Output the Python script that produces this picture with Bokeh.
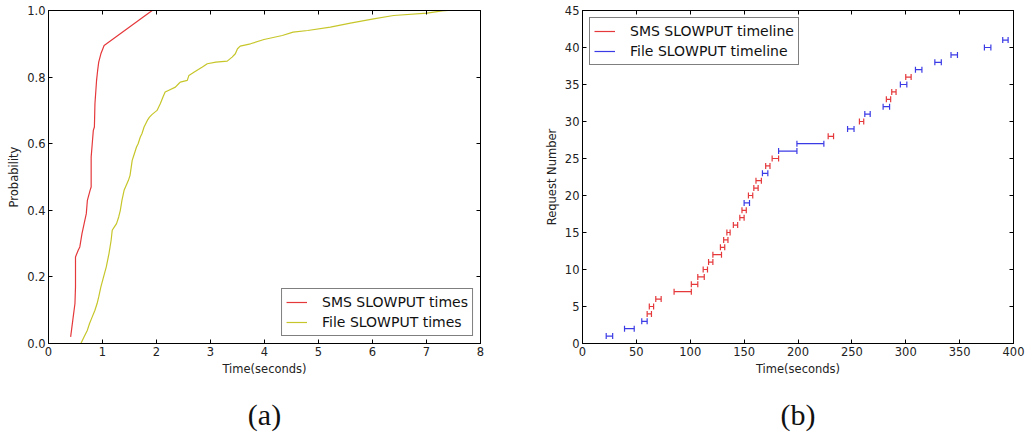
import numpy as np
from bokeh.plotting import figure
from bokeh.layouts import row
from bokeh.models import (LinearAxis, FixedTicker, PrintfTickFormatter, Legend,
                          LegendItem, Title, Range1d)
from bokeh.embed import file_html
from bokeh.resources import INLINE

# ---- (a) cumulative distribution of SLOWPUT completion times ----
sms_time = [0.41, 0.45, 0.49, 0.50, 0.50, 0.55, 0.58, 0.62, 0.66, 0.70, 0.72, 0.77,
            0.79, 0.79, 0.81, 0.83, 0.85, 0.86, 0.89, 0.91, 0.93, 0.97, 1.03, 1.92]
sms_prob = [0.02, 0.07, 0.12, 0.17, 0.26, 0.28, 0.29, 0.33, 0.36, 0.39, 0.43, 0.46,
            0.47, 0.56, 0.60, 0.64, 0.65, 0.72, 0.79, 0.82, 0.845, 0.87, 0.895, 1.0]

file_time = [0.60, 0.66, 0.72, 0.76, 0.81, 0.86, 0.90, 0.93, 0.97, 1.02, 1.07, 1.12,
             1.16, 1.18, 1.22, 1.26, 1.30, 1.33, 1.36, 1.40, 1.44, 1.48, 1.51, 1.55,
             1.59, 1.63, 1.66, 1.70, 1.73, 1.77, 1.83, 1.87, 1.92, 2.01, 2.07, 2.12,
             2.16, 2.22, 2.35, 2.41, 2.44, 2.57, 2.60, 2.70, 2.85, 2.94, 3.10, 3.31,
             3.40, 3.46, 3.50, 3.55, 3.74, 3.99, 4.33, 4.53, 4.80, 5.22, 5.59, 6.02,
             6.39, 7.01, 7.29, 7.40]
file_prob = [0.0, 0.02, 0.04, 0.06, 0.08, 0.10, 0.12, 0.14, 0.17, 0.20, 0.23, 0.27,
             0.31, 0.34, 0.35, 0.36, 0.38, 0.40, 0.43, 0.46, 0.475, 0.49, 0.505, 0.55,
             0.57, 0.59, 0.60, 0.62, 0.63, 0.65, 0.67, 0.68, 0.688, 0.70, 0.72, 0.74,
             0.755, 0.76, 0.77, 0.78, 0.785, 0.79, 0.805, 0.815, 0.83, 0.84, 0.845, 0.848,
             0.86, 0.87, 0.885, 0.893, 0.90, 0.913, 0.925, 0.935, 0.94, 0.95, 0.962, 0.975,
             0.985, 0.992, 0.999, 1.0]

time_ticks = [0, 1, 2, 3, 4, 5, 6, 7, 8]
prob_ticks = [0.0, 0.2, 0.4, 0.6, 0.8, 1.0]

# ---- (b) request timeline: start / end of each request (seconds) ----
sms_req = [4, 5, 6, 7, 8, 9, 10, 11, 12, 13, 14, 15, 16, 17, 18, 20, 21, 22,
           24, 25, 28, 30, 33, 34, 36]
sms_start = [60, 62, 68, 85, 101, 107, 112, 117, 121, 128, 131, 134, 140, 146, 148,
             154, 159, 161, 170, 176, 228, 257, 282, 287, 300]
sms_end = [64, 66, 73, 101, 107, 113, 116, 121, 129, 132, 135, 137, 144, 150, 152,
           158, 163, 166, 174, 182, 233, 261, 286, 291, 305]

file_req = [1, 2, 3, 19, 23, 26, 27, 29, 31, 32, 35, 37, 38, 39, 40, 41]
file_start = [22, 39, 55, 150, 167, 182, 199, 246, 262, 279, 295, 309, 327, 342, 373, 390]
file_end = [28, 48, 60, 155, 172, 199, 224, 252, 267, 285, 301, 315, 333, 348, 379, 395]

req_time_ticks = [0, 50, 100, 150, 200, 250, 300, 350, 400]
req_ticks = [0, 5, 10, 15, 20, 25, 30, 35, 40, 45]

FONT = "DejaVu Sans"
TICK_SIZE = "11.5px"
RED = "#e5383b"
YELLOW = "#c6c62a"
BLUE = "#3b3be6"


def make_fig(xr, yr, xticks, yticks, xlabel, ylabel, left, right, caption, yfmt=None):
    p = figure(frame_width=1026 // 2 - left - right, frame_height=333,
               x_range=Range1d(*xr), y_range=Range1d(*yr),
               output_backend="svg", toolbar_location=None,
               min_border_left=left, min_border_right=right,
               min_border_top=10, min_border_bottom=95)
    p.xgrid.visible = False
    p.ygrid.visible = False
    p.outline_line_color = "black"
    p.outline_line_width = 1
    p.background_fill_color = "white"
    p.border_fill_color = "white"

    for ax in p.xaxis + p.yaxis:
        ax.major_tick_in = 4
        ax.major_tick_out = 0
        ax.minor_tick_line_color = None
        ax.axis_line_color = "black"
        ax.major_tick_line_color = "black"
        ax.major_label_text_font = FONT
        ax.major_label_text_font_size = TICK_SIZE
        ax.major_label_text_color = "#222222"
        ax.axis_label_text_font = FONT
        ax.axis_label_text_font_size = TICK_SIZE
        ax.axis_label_text_font_style = "normal"
        ax.axis_label_text_color = "#222222"
        ax.major_label_standoff = 3
        ax.axis_label_standoff = 3
    p.xaxis.ticker = FixedTicker(ticks=xticks)
    p.yaxis.ticker = FixedTicker(ticks=yticks)
    p.xaxis.axis_label = xlabel
    p.yaxis.axis_label = ylabel
    if yfmt:
        p.yaxis.formatter = PrintfTickFormatter(format=yfmt)

    # inward ticks on the top and right edges as well
    for loc, ticks in (("above", xticks), ("right", yticks)):
        ax = LinearAxis(ticker=FixedTicker(ticks=ticks),
                        major_label_text_font_size="0px",
                        major_label_text_color=None,
                        major_label_standoff=0,
                        major_tick_in=4, major_tick_out=0,
                        minor_tick_line_color=None,
                        axis_line_color="black")
        p.add_layout(ax, loc)

    p.add_layout(Title(text=caption, align="center", text_font="Liberation Serif",
                       text_font_size="30px", text_font_style="normal",
                       text_color="#111111", standoff=35), "below")
    return p


def style_legend(leg):
    leg.label_text_font = FONT
    leg.label_text_font_size = "14px"
    leg.label_text_color = "#111111"
    leg.border_line_color = "black"
    leg.border_line_width = 1
    leg.background_fill_color = "white"
    leg.background_fill_alpha = 1.0
    leg.glyph_width = 21
    leg.glyph_height = 18
    leg.label_height = 18
    leg.label_standoff = 15
    leg.padding = 4
    leg.spacing = 2
    leg.margin = 7


# (a)
pa = make_fig((0, 8), (0, 1), time_ticks, prob_ticks, "Time(seconds)", "Probability",
              left=48, right=33, caption="(a)", yfmt="%.1f")
r_sms = pa.line(sms_time, sms_prob, line_color=RED, line_width=1.2)
r_file = pa.line(file_time, file_prob, line_color=YELLOW, line_width=1.2)
leg_a = Legend(items=[LegendItem(label="SMS SLOWPUT times", renderers=[r_sms]),
                      LegendItem(label="File SLOWPUT times", renderers=[r_file])],
               location="bottom_right")
style_legend(leg_a)
pa.add_layout(leg_a)

# (b)
pb = make_fig((0, 400), (0, 45), req_time_ticks, req_ticks, "Time(seconds)",
              "Request Number", left=69, right=13, caption="(b)")


def timeline(p, req, start, end, color):
    seg = p.segment(x0=start, y0=req, x1=end, y1=req, line_color=color, line_width=1.2)
    p.scatter(x=list(start) + list(end), y=list(req) + list(req), marker="dash",
              angle=np.pi / 2, size=6, line_color=color, line_width=1.2)
    return seg


s_sms = timeline(pb, sms_req, sms_start, sms_end, RED)
s_file = timeline(pb, file_req, file_start, file_end, BLUE)
leg_b = Legend(items=[LegendItem(label="SMS SLOWPUT timeline", renderers=[s_sms]),
                      LegendItem(label="File SLOWPUT timeline", renderers=[s_file])],
               location="top_left")
style_legend(leg_b)
pb.add_layout(leg_b)

layout = row(pa, pb)
open("out.html", "w").write(file_html(layout, INLINE))
